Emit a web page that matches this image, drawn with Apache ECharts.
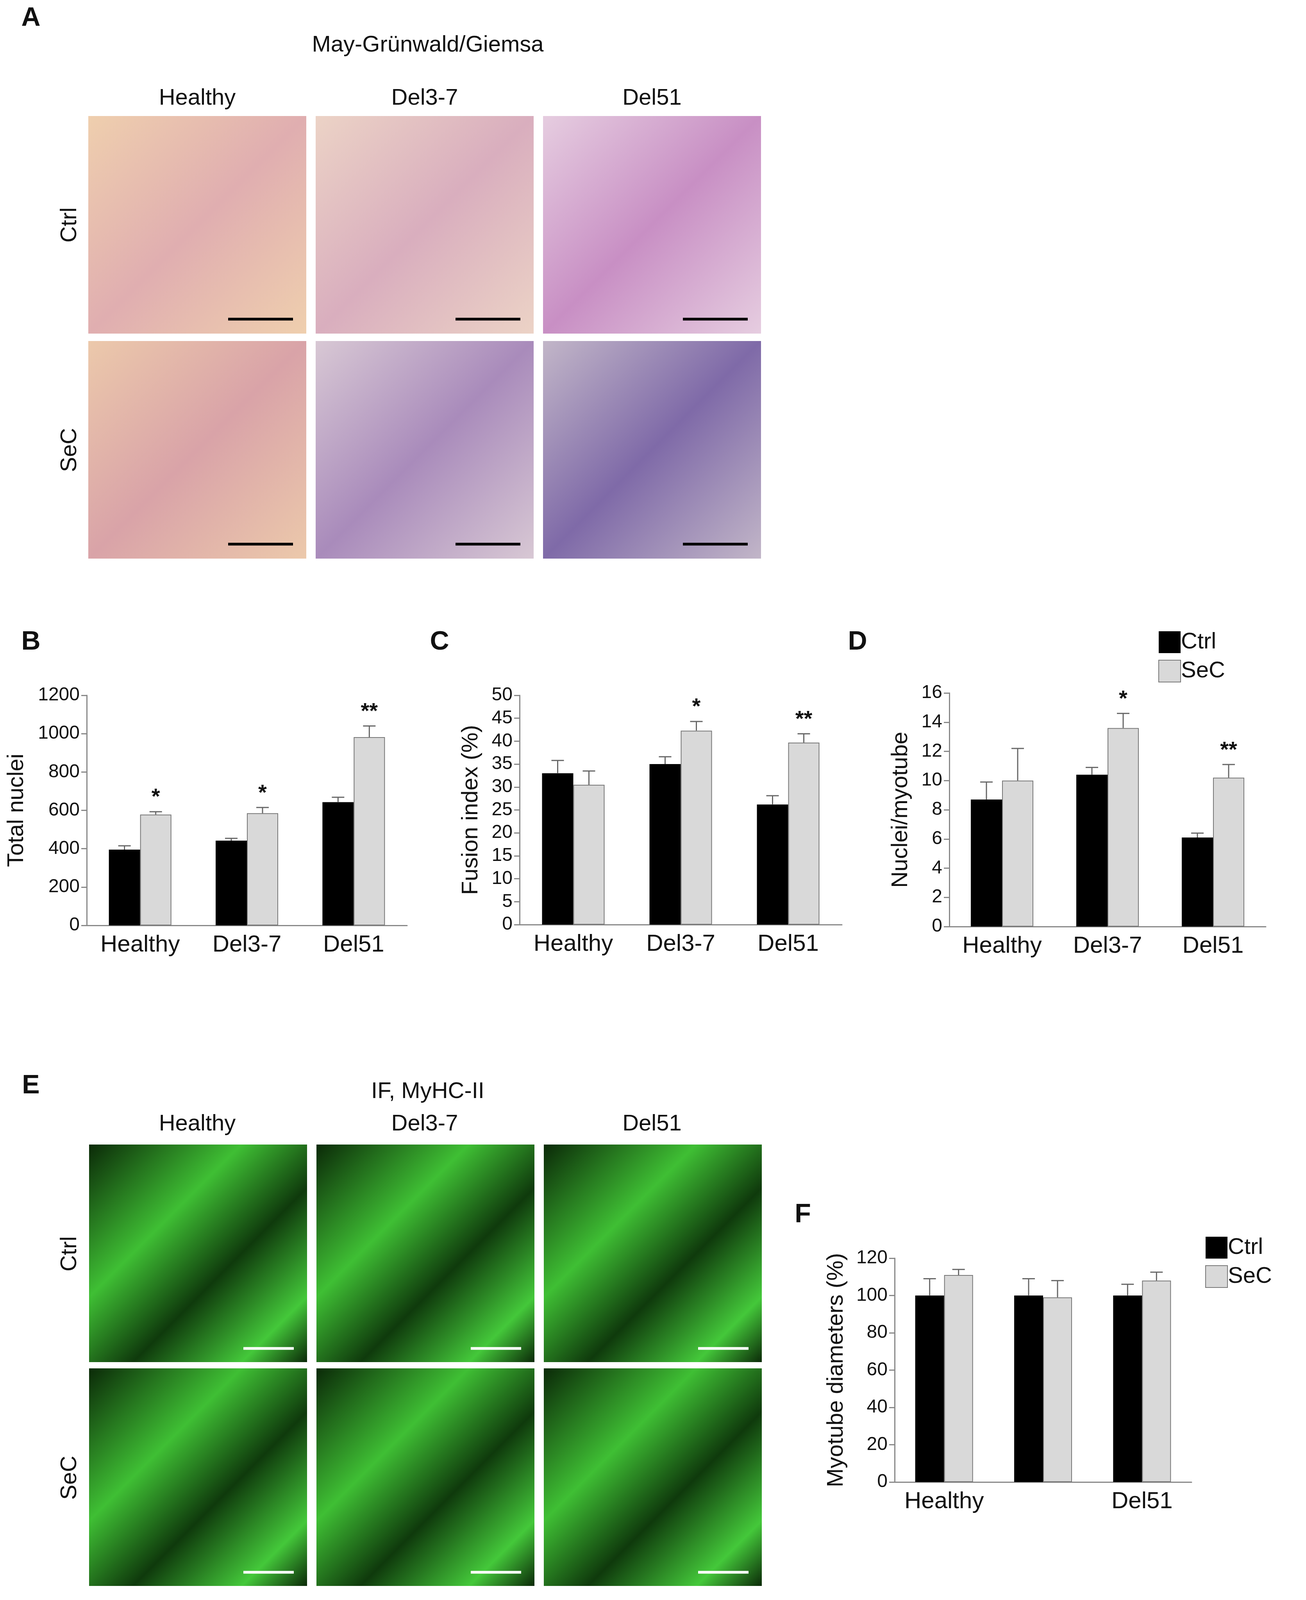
<!DOCTYPE html>
<html>
<head>
<meta charset="utf-8">
<script src="https://cdn.jsdelivr.net/npm/echarts@6/dist/echarts.min.js"></script>
<style>
  html, body { margin: 0; padding: 0; background: #fff; }
  #chart { width: 3343px; height: 4153px; }
</style>
</head>
<body>
<div id="chart"></div>
<script>
// 데이터
var groups = ['Healthy', 'Del3-7', 'Del51'];
var seriesNames = ['Ctrl', 'SeC'];

var nucleiCtrl = [395, 442, 643];
var nucleiCtrlErr = [20, 12, 25];
var nucleiSec = [578, 585, 982];
var nucleiSecErr = [15, 30, 58];
var nucleiSig = ['*', '*', '**'];

var fusionCtrl = [33, 35, 26.2];
var fusionCtrlErr = [2.8, 1.6, 1.9];
var fusionSec = [30.5, 42.3, 39.7];
var fusionSecErr = [3, 2, 1.9];
var fusionSig = ['', '*', '**'];

var myoCtrl = [8.7, 10.4, 6.1];
var myoCtrlErr = [1.2, 0.5, 0.3];
var myoSec = [10, 13.6, 10.2];
var myoSecErr = [2.2, 1.0, 0.9];
var myoSig = ['', '*', '**'];

var diamCtrl = [100, 100, 100];
var diamCtrlErr = [9, 9, 6];
var diamSec = [111, 99, 108];
var diamSecErr = [3, 9, 4.5];
var diamSig = ['', '', ''];

var FONT = 'Liberation Sans, Arial, sans-serif';

// 그리드 배치
var panels = [
  { left: 222, top: 1780, width: 820, height: 589, max: 1200, interval: 200, name: 'Total nuclei', gap: 150, bw: 80,
    ctrl: nucleiCtrl, ctrlErr: nucleiCtrlErr, sec: nucleiSec, secErr: nucleiSecErr, sig: nucleiSig },
  { left: 1330, top: 1780, width: 825, height: 587, max: 50, interval: 5, name: 'Fusion index (%)', gap: 95, bw: 80,
    ctrl: fusionCtrl, ctrlErr: fusionCtrlErr, sec: fusionSec, secErr: fusionSecErr, sig: fusionSig },
  { left: 2430, top: 1774, width: 810, height: 598, max: 16, interval: 2, name: 'Nuclei/myotube', gap: 95, bw: 80,
    ctrl: myoCtrl, ctrlErr: myoCtrlErr, sec: myoSec, secErr: myoSecErr, sig: myoSig },
  { left: 2290, top: 3221, width: 760, height: 573, max: 120, interval: 20, name: 'Myotube diameters (%)', gap: 120, bw: 74,
    ctrl: diamCtrl, ctrlErr: diamCtrlErr, sec: diamSec, secErr: diamSecErr, sig: diamSig }
];

function errorSeries(p, i, vals, errs, sign, sig) {
  return {
    type: 'custom',
    xAxisIndex: i,
    yAxisIndex: i,
    z: 5,
    data: vals.map(function (v, k) { return [k, v, errs[k], sig ? sig[k] : '']; }),
    renderItem: function (params, api) {
      var top = api.coord([api.value(0), api.value(1) + api.value(2)]);
      var base = api.coord([api.value(0), api.value(1)]);
      var x = base[0] + sign * p.bw / 2;
      var children = [
        { type: 'line', shape: { x1: x, y1: base[1], x2: x, y2: top[1] }, style: { stroke: '#666', lineWidth: 3 } },
        { type: 'line', shape: { x1: x - 16, y1: top[1], x2: x + 16, y2: top[1] }, style: { stroke: '#666', lineWidth: 3 } }
      ];
      var s = api.value(3);
      if (s) {
        children.push({ type: 'text', x: x, y: top[1] - 8,
          style: { text: s, fill: '#111', font: 'bold 56px ' + FONT, align: 'center', verticalAlign: 'bottom' } });
      }
      return { type: 'group', children: children };
    }
  };
}

var grids = [], xAxes = [], yAxes = [], series = [];
panels.forEach(function (p, i) {
  grids.push({ left: p.left, top: p.top, width: p.width, height: p.height });
  xAxes.push({
    type: 'category', gridIndex: i, data: groups,
    axisLine: { lineStyle: { color: '#888', width: 3 } },
    axisTick: { length: 14, lineStyle: { color: '#888', width: 3 } },
    axisLabel: { fontSize: 60, color: '#111', fontFamily: FONT, margin: 20 }
  });
  yAxes.push({
    type: 'value', gridIndex: i, min: 0, max: p.max, interval: p.interval,
    name: p.name, nameLocation: 'middle', nameGap: p.gap,
    nameTextStyle: { fontSize: 58, color: '#111', fontFamily: FONT },
    axisLine: { show: true, lineStyle: { color: '#888', width: 3 } },
    axisTick: { show: true, length: 14, lineStyle: { color: '#888', width: 3 } },
    axisLabel: { fontSize: 48, color: '#111', fontFamily: FONT, margin: 18, formatter: function (v) { return String(v); } },
    splitLine: { show: false }
  });
  series.push({
    name: 'Ctrl', type: 'bar', xAxisIndex: i, yAxisIndex: i, data: p.ctrl,
    barWidth: p.bw, barGap: '0%', itemStyle: { color: '#000' }
  });
  series.push({
    name: 'SeC', type: 'bar', xAxisIndex: i, yAxisIndex: i, data: p.sec,
    barWidth: p.bw, barGap: '0%', itemStyle: { color: '#d9d9d9', borderColor: '#777', borderWidth: 2 }
  });
  series.push(errorSeries(p, i, p.ctrl, p.ctrlErr, -1, null));
  series.push(errorSeries(p, i, p.sec, p.secErr, 1, p.sig));
});

// 이미지 패널 자리 (현미경 사진 대신 색 면)
var colX = [226, 808, 1390];
var aRows = [297, 873];
var eRows = [2930, 3503];
var imgW = 558, imgH = 557;
var aColors = [['#efcfae', '#e0aeb0'], ['#ecd3c6', '#d9aebe'], ['#e6cde0', '#c88fc4'],
               ['#ecc9ab', '#d9a3a8'], ['#d8c8d4', '#a98bbb'], ['#c2b6c8', '#7f6aa8']];
var graphics = [];

function gradient(c1, c2) {
  return new echarts.graphic.LinearGradient(0, 0, 1, 1, [
    { offset: 0, color: c1 }, { offset: 0.5, color: c2 }, { offset: 1, color: c1 }
  ]);
}

aRows.forEach(function (y, r) {
  colX.forEach(function (x, c) {
    var col = aColors[r * 3 + c];
    graphics.push({ type: 'rect', shape: { x: x, y: y, width: imgW, height: imgH }, style: { fill: gradient(col[0], col[1]) } });
    graphics.push({ type: 'line', shape: { x1: x + 358, y1: y + 520, x2: x + 524, y2: y + 520 }, style: { stroke: '#000', lineWidth: 7 } });
  });
});
eRows.forEach(function (y, r) {
  colX.forEach(function (x, c) {
    graphics.push({ type: 'rect', shape: { x: x + 2, y: y, width: imgW, height: imgH },
      style: { fill: new echarts.graphic.LinearGradient(0, 0, 1, 1, [
        { offset: 0, color: '#0b2a08' }, { offset: 0.35, color: '#3fbf34' },
        { offset: 0.6, color: '#0f3a0c' }, { offset: 0.85, color: '#44c83a' }, { offset: 1, color: '#0b2a08' }
      ]) } });
    graphics.push({ type: 'line', shape: { x1: x + 397, y1: y + 522, x2: x + 526, y2: y + 522 }, style: { stroke: '#fff', lineWidth: 7 } });
  });
});

function txt(x, y, s, size, bold, rot) {
  graphics.push({ type: 'text', x: x, y: y, rotation: rot || 0,
    style: { text: s, fill: '#111', font: (bold ? 'bold ' : '') + size + 'px ' + FONT, align: 'center', verticalAlign: 'middle' } });
}
txt(79, 47, 'A', 68, true);
txt(1095, 116, 'May-Grünwald/Giemsa', 58);
txt(79, 1644, 'B', 68, true);
txt(1125, 1644, 'C', 68, true);
txt(2195, 1644, 'D', 68, true);
txt(79, 2780, 'E', 68, true);
txt(1095, 2795, 'IF, MyHC-II', 58);
txt(2055, 3110, 'F', 68, true);
[252, 2878].forEach(function (y) {
  colX.forEach(function (x, c) { txt(x + imgW / 2, y, groups[c], 58); });
});
txt(179, 576, 'Ctrl', 58, false, Math.PI / 2);
txt(179, 1152, 'SeC', 58, false, Math.PI / 2);
txt(179, 3210, 'Ctrl', 58, false, Math.PI / 2);
txt(179, 3783, 'SeC', 58, false, Math.PI / 2);

function legendAt(left, top) {
  return {
    left: left, top: top, orient: 'vertical', data: seriesNames,
    itemWidth: 56, itemHeight: 56, itemGap: 16, icon: 'rect',
    textStyle: { fontSize: 58, color: '#111', fontFamily: FONT, padding: [0, 0, 0, -4] },
    selectedMode: false
  };
}

var myChart = echarts.init(document.getElementById('chart'), null, { renderer: 'canvas' });
myChart.setOption({
  backgroundColor: '#fff',
  animation: false,
  grid: grids,
  xAxis: xAxes,
  yAxis: yAxes,
  legend: [legendAt(2960, 1610), legendAt(3080, 3160)],
  series: series,
  graphic: graphics
});
</script>
</body>
</html>
